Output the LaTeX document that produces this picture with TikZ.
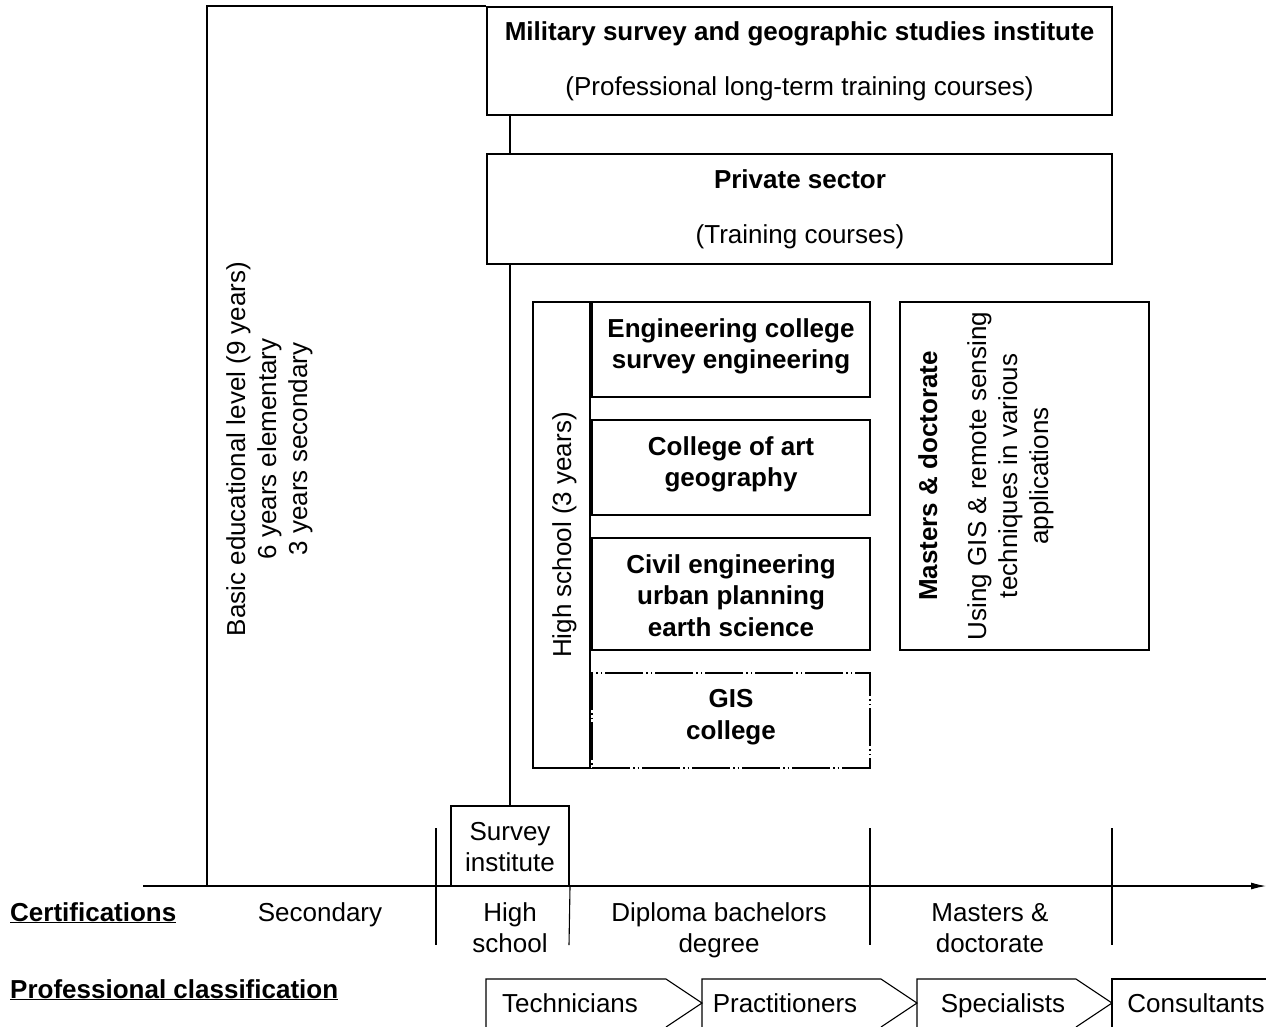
\documentclass[tikz,border=0pt]{standalone}
\usepackage{fontspec}
\setmainfont{Liberation Sans}
\usetikzlibrary{arrows.meta}
\begin{document}
\begin{tikzpicture}[x=1pt,y=-1pt,
  txt/.style={font=\fontsize{26}{31}\selectfont, inner sep=0pt, anchor=base},
  btxt/.style={font=\fontsize{26}{31}\selectfont\bfseries, inner sep=0pt, anchor=base},
  bbox/.style={draw, line width=2pt, inner sep=0pt},
  tbox/.style={draw, line width=1.1pt, inner sep=0pt},
  thin line/.style={draw, line width=1.1pt},
  gisdash/.style={draw, line width=1.1pt, dash pattern=on 38pt off 3pt on 1.5pt off 3pt on 1.5pt off 3pt, inner sep=0pt}]
\useasboundingbox (0,0) rectangle (1266,1026);

% boxes
\node[bbox, minimum width=625pt, minimum height=108pt] (mil) at (799.5,61) {};
\node[bbox, minimum width=625pt, minimum height=110pt] (priv) at (799.5,209) {};
\node[tbox, minimum width=57pt, minimum height=466pt] (hs) at (561.5,535) {};
\node[bbox, minimum width=278pt, minimum height=95pt] (eng) at (731,349.5) {};
\node[bbox, minimum width=278pt, minimum height=95pt] (art) at (731,467.5) {};
\node[bbox, minimum width=278pt, minimum height=112pt] (civ) at (731,594) {};
\node[gisdash, minimum width=278pt, minimum height=95pt] (gis) at (731,720.5) {};
\node[bbox, minimum width=249pt, minimum height=348pt] (mas) at (1024.5,476) {};
\node[bbox, minimum width=118pt, minimum height=80pt] (sur) at (510,846) {};

% box texts
\node[btxt] (milA) at (799.5,40) {Military survey and geographic studies institute};
\node[txt] (milB) at (799.5,95) {(Professional long-term training courses)};
\node[btxt] (privA) at (800,188) {Private sector};
\node[txt] (privB) at (800,243) {(Training courses)};
\node[txt, rotate=90] (hsT) at (571,535) {High school (3 years)};
\node[btxt] (engA) at (731,337) {Engineering college};
\node[btxt] (engB) at (731,368) {survey engineering};
\node[btxt] (artA) at (731,455) {College of art};
\node[btxt] (artB) at (731,486) {geography};
\node[btxt] (civA) at (731,573) {Civil engineering};
\node[btxt] (civB) at (731,604) {urban planning};
\node[btxt] (civC) at (731,636) {earth science};
\node[btxt] (gisA) at (731,707) {GIS};
\node[btxt] (gisB) at (731,739) {college};
\node[btxt, rotate=90] (masA) at (937,476) {Masters \& doctorate};
\node[txt, rotate=90] (masB) at (986,476) {Using GIS \& remote sensing};
\node[txt, rotate=90] (masC) at (1017,476) {techniques in various};
\node[txt, rotate=90] (masD) at (1048,476) {applications};
\node[txt, rotate=90] (basA) at (245,449) {Basic educational level (9 years)};
\node[txt, rotate=90] (basB) at (276,449) {6 years elementary};
\node[txt, rotate=90] (basC) at (307,449) {3 years secondary};
\node[txt] (surA) at (510,840) {Survey};
\node[txt] (surB) at (510,871) {institute};

% connectors
\coordinate (bl) at (207,886);
\draw[thin line] (bl) |- (mil.north west);
\draw[thin line] (sur.north |- mil.south) -- (sur.north |- priv.north);
\draw[thin line] (sur.north |- priv.south) -- (sur.north);

% time axis
\coordinate (ax0) at (143,886);
\coordinate (ax1) at (1266,886);
\draw[thin line, -{Latex[length=15pt,width=7pt]}] (ax0) -- (ax1);
\coordinate (t1a) at (436,828); \coordinate (t1b) at (436,945);
\coordinate (t2b) at (569,945);
\coordinate (t3a) at (870,828); \coordinate (t3b) at (870,945);
\coordinate (t4a) at (1112,828); \coordinate (t4b) at (1112,945);
\draw[thin line] (t1a) -- (t1b);
\draw[thin line] (sur.south east) -- (t2b);
\draw[thin line] (t3a) -- (t3b);
\draw[thin line] (t4a) -- (t4b);

% certifications
\node[btxt, anchor=base west] (cert) at (10,921) {\underline{Certifications}};
\node[txt] (c1) at (320,921) {Secondary};
\node[txt] (c2a) at (510,921) {High};
\node[txt] (c2b) at (510,952) {school};
\node[txt] (c3a) at (719,921) {Diploma bachelors};
\node[txt] (c3b) at (719,952) {degree};
\node[txt] (c4a) at (990,921) {Masters \&};
\node[txt] (c4b) at (990,952) {doctorate};

% professional classification
\node[btxt, anchor=base west] (prof) at (10,998) {\underline{Professional classification}};
\draw[thin line] (486,1040) -- (486,979) -- (666,979) -- (702,1003) -- (666,1027);
\draw[thin line] (702,1040) -- (702,979) -- (881,979) -- (917,1003) -- (881,1027);
\draw[thin line] (917,1040) -- (917,979) -- (1076,979) -- (1112,1003) -- (1076,1027);
\draw[thin line] (1112,1040) -- (1112,979) -- (1270,979);
\node[txt] (p1) at (570,1012) {Technicians};
\node[txt] (p2) at (785,1012) {Practitioners};
\node[txt] (p3) at (1003,1012) {Specialists};
\node[txt] (p4) at (1196,1012) {Consultants};
\end{tikzpicture}
\end{document}
